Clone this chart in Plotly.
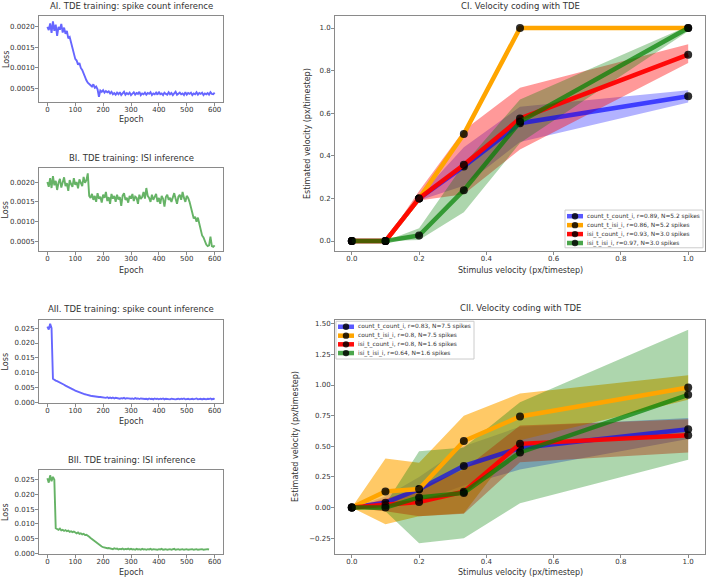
import plotly.graph_objects as go

W, H = 708, 583

# ---------------- data: training loss curves (sampled every 5 epochs) ----------------
epoch_step = 5
# AI (spike count inference), units of 1e-5
loss_AI = [200, 192, 208, 185, 213, 190, 205, 178, 200, 193, 207, 186, 198,
           183, 190, 172, 175, 160, 150, 135, 122, 118, 108, 112, 100, 95, 85, 78, 70, 64,
           60, 58, 55, 60, 52, 55, 48, 30, 45, 42, 46, 40, 44, 41, 43, 38, 42, 36, 39,
           35, 40, 36, 41, 34, 38, 42, 35, 39, 36, 40, 34, 38, 41, 35, 39, 37, 42, 34, 38,
           36, 40, 35, 39, 37, 41, 34, 38, 36, 40, 35, 42, 36, 38, 34, 40, 37, 35, 41, 36,
           39, 34, 38, 42, 35, 37, 40, 36, 38, 34, 41, 35, 39, 37, 40, 34, 38, 36, 41, 35,
           39, 37, 40, 34, 38, 36, 39, 35, 41, 37, 36, 40]
# BI (ISI inference), units of 1e-5
loss_BI = [200, 188, 210, 185, 215, 192, 203, 180, 198, 208, 186, 200, 212, 190, 197,
           178, 205, 195, 188, 210, 193, 200, 184, 207, 196, 190, 213, 198, 205, 222,
           165, 160,
           170, 155, 165, 150, 172, 158, 163, 148, 168, 160, 175, 152, 162, 145, 170, 158,
           165, 150, 168, 156, 162, 140, 166, 172, 155, 160, 148, 165, 158, 170, 152, 163,
           160, 145, 168, 157, 162, 175, 158, 185, 165, 160, 150, 168, 155, 162, 170, 150,
           160, 145, 165, 158, 138, 162, 168, 155, 160, 150, 165, 172, 158, 145, 163, 168,
           155, 175, 160, 150, 165,
           160, 150, 135, 125, 108, 112, 100, 110, 95, 80, 65, 60, 50, 42, 38, 40, 62, 38,
           36, 40]
# AII (spike count inference), units of 1e-4
loss_AII = [255, 245, 265, 250, 80, 76, 74, 72, 70, 68, 64, 62, 60, 57, 55, 53, 50, 47,
            45, 43, 40, 38, 36, 35, 33, 32, 30, 28, 27, 25, 24, 23, 22, 21, 21, 20, 20, 19,
            19, 18, 18,
            17, 16, 18, 15, 17, 15, 17, 14, 16, 15, 16, 13, 15, 14, 16, 13, 15, 14, 15, 13,
            14, 12, 15, 13, 14, 12, 14, 13, 14, 12, 13, 11, 14, 12, 13, 11, 14, 12, 13, 11,
            13, 12, 14, 11, 13, 12, 13, 11, 13, 12, 13, 11, 12, 13, 11, 13, 12, 14, 11, 12,
            13, 11, 12, 13, 11, 12, 14, 11, 12, 13, 11, 13, 12, 11, 13, 12, 14, 11, 13, 12]
# BII (ISI inference), units of 1e-4
loss_BII = [255, 240, 265, 245, 260, 250, 85, 82, 80, 84, 78, 80, 76, 79, 75, 77, 73, 75,
            72, 74, 70, 68, 71, 66, 68, 64, 66, 62, 63, 58, 56, 52, 48, 45, 40, 37, 33, 30,
            26, 23, 21, 19, 18, 17, 18, 16,
            16, 14, 17, 15, 16, 13, 15, 14, 16, 13, 15, 14, 16, 13, 15, 13, 14, 12, 15, 13,
            14, 12, 15, 13, 14, 12, 14, 13, 15, 12, 14, 13, 14, 12, 14, 13, 15, 12, 13, 14,
            12, 13, 14, 12, 13, 15, 12, 13, 14, 12, 13, 14, 12, 13, 14, 12, 13, 12, 14, 12,
            13, 14, 12, 13, 12, 14, 12, 13, 12, 14, 13]

# ---------------- data: velocity coding ----------------
stim_vel = [0.0, 0.1, 0.2, 0.333, 0.5, 1.0]
series_names = ["count_t_count_i", "count_t_isi_i", "isi_t_count_i", "isi_t_isi_i"]

# CI
c1_r = [0.89, 0.86, 0.93, 0.97]
c1_N = [5.2, 5.2, 3.0, 3.0]
c1_mean = [
    [0, 0, 0.2, 0.35, 0.553, 0.68],
    [0, 0, 0.2, 0.502, 1.0, 1.0],
    [0, 0, 0.2, 0.358, 0.575, 0.875],
    [0, 0, 0.026, 0.239, 0.56, 1.0],
]
c1_low = [
    [0, 0, 0.19, 0.26, 0.465, 0.65],
    [0, 0, 0.2, 0.502, 1.0, 1.0],
    [0, 0, 0.19, 0.22, 0.43, 0.836],
    [0, 0, 0.005, 0.135, 0.46, 0.985],
]
c1_high = [
    [0, 0, 0.21, 0.44, 0.63, 0.708],
    [0, 0, 0.2, 0.502, 1.0, 1.0],
    [0, 0, 0.235, 0.52, 0.72, 0.924],
    [0, 0, 0.06, 0.36, 0.665, 1.01],
]

# CII
c2_r = [0.83, 0.8, 0.8, 0.64]
c2_N = [7.5, 7.5, 1.6, 1.6]
c2_mean = [
    [0, 0.04, 0.15, 0.34, 0.486, 0.64],
    [0, 0.132, 0.151, 0.543, 0.743, 0.98],
    [0, 0.02, 0.046, 0.13, 0.52, 0.59],
    [0, 0.0, 0.083, 0.12, 0.45, 0.92],
]
c2_low = [
    [0, -0.01, 0.05, 0.18, 0.31, 0.56],
    [0, -0.135, -0.07, -0.046, 0.55, 0.88],
    [0, -0.03, -0.07, -0.05, 0.37, 0.45],
    [0, -0.03, -0.29, -0.25, 0.035, 0.39],
]
c2_high = [
    [0, 0.09, 0.25, 0.5, 0.66, 0.73],
    [0, 0.40, 0.365, 0.75, 0.93, 1.08],
    [0, 0.07, 0.16, 0.31, 0.67, 0.72],
    [0, 0.03, 0.46, 0.49, 0.86, 1.45],
]

line_colors = ["rgba(0,0,255,0.65)", "rgba(255,165,0,1)", "rgba(255,0,0,0.95)", "rgba(0,128,0,0.7)"]
fill_colors = ["rgba(0,0,255,0.3)", "rgba(255,165,0,0.6)", "rgba(255,0,0,0.4)", "rgba(0,128,0,0.32)"]
marker_color = "rgba(0,0,0,0.82)"

FONT = "DejaVu Sans"
TXT = "#333333"
AXC = "#8a8a8a"

fig = go.Figure()


def dom_x(l, r):
    return [l / W, r / W]


def dom_y(t, b):
    return [1 - b / H, 1 - t / H]


# ------------- loss panels -------------
loss_panels = [
    ("x", "y", loss_AI, 1e-5, "rgba(0,0,255,0.6)"),
    ("x2", "y2", loss_BI, 1e-5, "rgba(0,128,0,0.6)"),
    ("x3", "y3", loss_AII, 1e-4, "rgba(0,0,255,0.6)"),
    ("x4", "y4", loss_BII, 1e-4, "rgba(0,128,0,0.6)"),
]
for xa, ya, vals, unit, col in loss_panels:
    fig.add_trace(go.Scatter(
        x=[i * epoch_step for i in range(len(vals))],
        y=[v * unit for v in vals],
        mode="lines", line=dict(color=col, width=1.9),
        xaxis=xa, yaxis=ya, showlegend=False, hoverinfo="skip"))


# ------------- velocity panels -------------
def add_velocity(xa, ya, means, lows, highs, rs, Ns):
    for k in range(4):
        fig.add_trace(go.Scatter(
            x=stim_vel + stim_vel[::-1],
            y=highs[k] + lows[k][::-1],
            fill="toself", fillcolor=fill_colors[k], line=dict(width=0),
            mode="lines", xaxis=xa, yaxis=ya, showlegend=False, hoverinfo="skip"))
    for k in range(4):
        fig.add_trace(go.Scatter(
            x=stim_vel, y=means[k], mode="lines+markers",
            line=dict(color=line_colors[k], width=4.5),
            marker=dict(color=marker_color, size=8, line=dict(width=0)),
            name=f"{series_names[k]}, r={rs[k]}, N={Ns[k]} spikes",
            xaxis=xa, yaxis=ya, showlegend=False))


add_velocity("x5", "y5", c1_mean, c1_low, c1_high, c1_r, c1_N)
add_velocity("x6", "y6", c2_mean, c2_low, c2_high, c2_r, c2_N)

axis_common = dict(showline=True, mirror=True, linecolor=AXC, linewidth=1,
                   ticks="outside", ticklen=3, tickwidth=1, tickcolor=AXC,
                   showgrid=False, zeroline=False,
                   tickfont=dict(family=FONT, size=7, color=TXT))
xaxis_extra = dict(ticklabelstandoff=-3)
yaxis_extra = dict(ticklabelstandoff=-1)

LX = dom_x(39, 223)
RX = dom_x(335, 705)

layout_axes = {}
left_boxes = [(16, 103), (169, 253), (322, 406), (473, 558)]
left_yranges = [[0.000165, 0.002265], [0.00025, 0.00236], [-0.0002, 0.0278], [-0.0003, 0.0284]]
left_ytick = [[0.0005, 0.0010, 0.0015, 0.0020], [0.0005, 0.0010, 0.0015, 0.0020],
              [0, 0.005, 0.010, 0.015, 0.020, 0.025], [0, 0.005, 0.010, 0.015, 0.020, 0.025]]
left_fmt = [".4f", ".4f", ".3f", ".3f"]
for i in range(4):
    sx = "xaxis" if i == 0 else f"xaxis{i + 1}"
    sy = "yaxis" if i == 0 else f"yaxis{i + 1}"
    anc_x = "y" if i == 0 else f"y{i + 1}"
    anc_y = "x" if i == 0 else f"x{i + 1}"
    t, b = left_boxes[i]
    layout_axes[sx] = dict(axis_common, **xaxis_extra, domain=LX, anchor=anc_x, range=[-30, 630],
                           tickvals=[0, 100, 200, 300, 400, 500, 600])
    layout_axes[sy] = dict(axis_common, **yaxis_extra, domain=dom_y(t, b), anchor=anc_y,
                           range=left_yranges[i], tickvals=left_ytick[i],
                           tickformat=left_fmt[i])

layout_axes["xaxis5"] = dict(axis_common, **xaxis_extra, domain=RX, anchor="y5", range=[-0.05, 1.05],
                             tickvals=[0, 0.2, 0.4, 0.6, 0.8, 1.0], tickformat=".1f")
layout_axes["yaxis5"] = dict(axis_common, **yaxis_extra, domain=dom_y(16, 253), anchor="x5",
                             range=[-0.048, 1.057],
                             tickvals=[0, 0.2, 0.4, 0.6, 0.8, 1.0], tickformat=".1f")
layout_axes["xaxis6"] = dict(axis_common, **xaxis_extra, domain=RX, anchor="y6", range=[-0.05, 1.05],
                             tickvals=[0, 0.2, 0.4, 0.6, 0.8, 1.0], tickformat=".1f")
layout_axes["yaxis6"] = dict(axis_common, **yaxis_extra, domain=dom_y(322, 558), anchor="x6",
                             range=[-0.38, 1.532],
                             tickvals=[-0.25, 0, 0.25, 0.5, 0.75, 1.0, 1.25, 1.5], tickformat=".2f")

annotations = []
shapes = []


def px(x):
    return x / W


def py(y):
    return 1 - y / H


def ann(text, xpx, ypx, size, angle=0, xanchor="center"):
    annotations.append(dict(text=text, x=px(xpx), y=py(ypx), xref="paper", yref="paper",
                            showarrow=False, xanchor=xanchor, yanchor="middle",
                            textangle=angle, font=dict(family=FONT, size=size, color=TXT)))


# titles
ann("AI. TDE training: spike count inference", 131, 6, 8.5)
ann("BI. TDE training: ISI inference", 131, 159, 8.5)
ann("AII. TDE training: spike count inference", 131, 311, 8.5)
ann("BII. TDE training: ISI inference", 131, 463, 8.5)
ann("CI. Velocity coding with TDE", 520, 6, 8.5)
ann("CII. Velocity coding with TDE", 520, 310, 8.5)
# axis labels
for (t, b), ey in zip(left_boxes, [120, 272, 424, 576]):
    ann("Epoch", 131, ey, 8)
    ann("Loss", 6, (t + b) / 2, 8, -90)
ann("Stimulus velocity (px/timestep)", 520, 272, 8)
ann("Stimulus velocity (px/timestep)", 520, 576, 8)
ann("Estimated velocity (px/timestep)", 307, 135, 8, -90)
ann("Estimated velocity (px/timestep)", 296, 440, 8, -90)


# ------------- legends (matplotlib-style compact boxes) -------------
def add_legend(box, rows, hx0, hx1, tx, rs, Ns):
    l, t, r, b = box
    shapes.append(dict(type="rect", xref="paper", yref="paper",
                       x0=px(l), x1=px(r), y0=py(b), y1=py(t),
                       fillcolor="rgba(255,255,255,0.85)", line=dict(color="#cccccc", width=1)))
    for k, ry in enumerate(rows):
        shapes.append(dict(type="line", xref="paper", yref="paper",
                           x0=px(hx0), x1=px(hx1), y0=py(ry), y1=py(ry),
                           line=dict(color=line_colors[k], width=4.5)))
        mx = (hx0 + hx1) / 2
        shapes.append(dict(type="circle", xref="paper", yref="paper",
                           x0=px(mx - 3.2), x1=px(mx + 3.2), y0=py(ry + 3.2), y1=py(ry - 3.2),
                           fillcolor=marker_color, line=dict(width=0)))
        ann(f"{series_names[k]}, r={rs[k]}, N={Ns[k]} spikes", tx, ry, 5.9, xanchor="left")


add_legend((565, 211.5, 703, 249.5), [217.7, 226.7, 235.7, 244.7], 567, 583, 585, c1_r, c1_N)
add_legend((336, 323.5, 474, 361.5), [329, 338, 346.7, 355.5], 338, 354, 356, c2_r, c2_N)

fig.update_layout(
    width=W, height=H, margin=dict(l=0, r=0, t=0, b=0),
    paper_bgcolor="white", plot_bgcolor="white",
    font=dict(family=FONT, color=TXT),
    annotations=annotations, shapes=shapes, showlegend=False,
    **layout_axes,
)

fig.write_html("out.html")
